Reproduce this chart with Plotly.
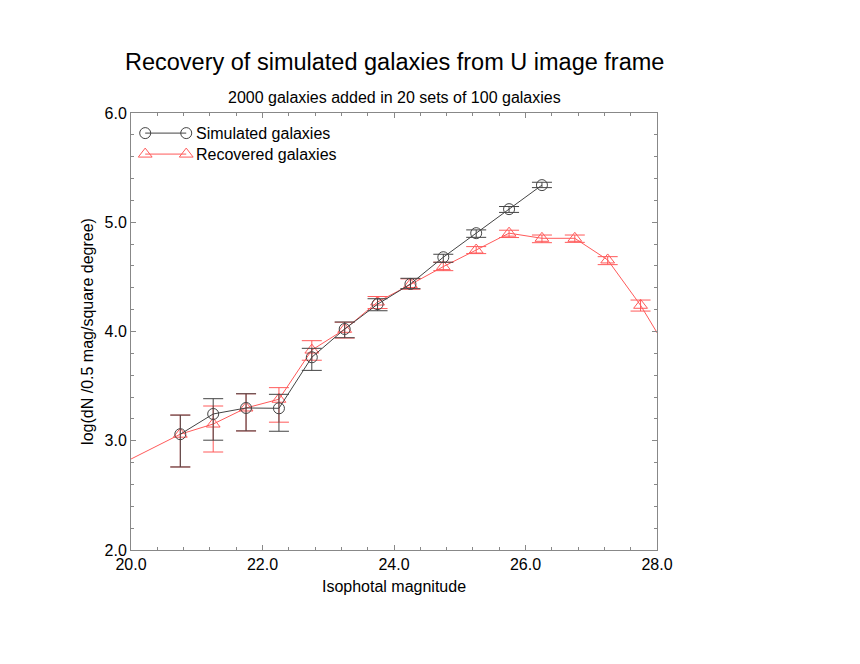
import plotly.graph_objects as go

# ---- data ----
sim_mag = [20.75, 21.25, 21.75, 22.25, 22.75, 23.25, 23.75, 24.25, 24.75, 25.25, 25.75, 26.25]
sim_logn = [3.06, 3.245, 3.30, 3.297, 3.764, 4.023, 4.25, 4.435, 4.68, 4.90, 5.12, 5.34]
sim_err_plus = [0.175, 0.14, 0.13, 0.128, 0.082, 0.064, 0.05, 0.052, 0.027, 0.03, 0.024, 0.026]
sim_err_minus = [0.30, 0.24, 0.21, 0.21, 0.12, 0.08, 0.06, 0.043, 0.046, 0.038, 0.03, 0.023]

rec_mag = [19.75, 20.75, 21.25, 21.75, 22.25, 22.75, 23.25, 23.75, 24.25, 24.75, 25.25, 25.75, 26.25, 26.75, 27.25, 27.75, 28.25]
rec_logn = [2.757, 3.06, 3.153, 3.30, 3.38, 3.83, 4.02, 4.27, 4.43, 4.594, 4.746, 4.90, 4.853, 4.853, 4.655, 4.24, 3.74]
rec_err_plus = [0.2, 0.175, 0.165, 0.13, 0.106, 0.086, 0.065, 0.05, 0.052, 0.04, 0.031, 0.027, 0.03, 0.03, 0.03, 0.048, 0.06]
rec_err_minus = [0.35, 0.30, 0.256, 0.21, 0.21, 0.093, 0.08, 0.06, 0.043, 0.037, 0.033, 0.04, 0.04, 0.037, 0.043, 0.053, 0.07]

x_ticks = [20.0, 22.0, 24.0, 26.0, 28.0]
y_ticks = [2.0, 3.0, 4.0, 5.0, 6.0]

title_text = "Recovery of simulated galaxies from U image frame"
subtitle_text = "2000 galaxies added in 20 sets of 100 galaxies"
x_title = "Isophotal magnitude"
y_title = "log(dN /0.5 mag/square degree)"
legend_labels = ["Simulated galaxies", "Recovered galaxies"]

BLACK = "#444444"
RED = "#ff5a5a"
FONT = "Liberation Sans, Arial, sans-serif"

fig = go.Figure()

fig.add_trace(go.Scatter(
    x=rec_mag, y=rec_logn, mode="lines+markers",
    line=dict(color=RED, width=1),
    marker=dict(symbol="triangle-up-open", size=12, color=RED, line=dict(width=1)),
    error_y=dict(type="data", symmetric=False, array=rec_err_plus, arrayminus=rec_err_minus,
                 color=RED, thickness=1, width=10),
    showlegend=False, cliponaxis=True,
))
fig.add_trace(go.Scatter(
    x=sim_mag, y=sim_logn, mode="lines+markers",
    line=dict(color=BLACK, width=1),
    marker=dict(symbol="circle-open", size=11, color=BLACK, line=dict(width=1)),
    error_y=dict(type="data", symmetric=False, array=sim_err_plus, arrayminus=sim_err_minus,
                 color=BLACK, thickness=1, width=10),
    showlegend=False, cliponaxis=True,
))

# manual legend on an overlay axis (0..1 coordinates of the plot area)
leg_x = [0.027, 0.105]
fig.add_trace(go.Scatter(
    x=leg_x, y=[0.954, 0.954], xaxis="x2", yaxis="y2", mode="lines+markers",
    line=dict(color=BLACK, width=1),
    marker=dict(symbol="circle-open", size=11, color=BLACK, line=dict(width=1)),
    showlegend=False, hoverinfo="skip",
))
fig.add_trace(go.Scatter(
    x=leg_x, y=[0.906, 0.906], xaxis="x2", yaxis="y2", mode="lines+markers",
    line=dict(color=RED, width=1),
    marker=dict(symbol="triangle-up-open", size=12, color=RED, line=dict(width=1)),
    showlegend=False, hoverinfo="skip",
))

axis_common = dict(
    showgrid=False, zeroline=False, showline=True, linecolor="#888888", linewidth=1,
    mirror="ticks", ticks="inside", ticklen=5, tickcolor="#888888",
    tickfont=dict(family=FONT, size=16, color="black"),
)

fig.update_layout(
    width=860, height=664,
    paper_bgcolor="white", plot_bgcolor="white",
    margin=dict(l=123, r=211, t=105, b=122),
    font=dict(family=FONT, color="black"),
    xaxis=dict(range=[20, 28], tickvals=x_ticks, ticktext=[f"{v:.1f}" for v in x_ticks],
               minor=dict(dtick=0.4, ticks="inside", ticklen=3, tickcolor="#888888"),
               title=dict(text=x_title, font=dict(size=16), standoff=8), **axis_common),
    yaxis=dict(range=[2, 6], tickvals=y_ticks, ticktext=[f"{v:.1f}" for v in y_ticks],
               minor=dict(dtick=0.2, ticks="inside", ticklen=3, tickcolor="#888888"),
               title=dict(text=y_title, font=dict(size=16), standoff=6), **axis_common),
    xaxis2=dict(range=[0, 1], overlaying="x", visible=False),
    yaxis2=dict(range=[0, 1], overlaying="y", visible=False),
    annotations=[
        dict(text=title_text, xref="paper", yref="paper", x=0.5, y=1, yshift=51,
             showarrow=False, font=dict(size=23.5, family=FONT), xanchor="center", yanchor="middle"),
        dict(text=subtitle_text, xref="paper", yref="paper", x=0.5, y=1, yshift=16,
             showarrow=False, font=dict(size=16, family=FONT), xanchor="center", yanchor="middle"),
        dict(text=legend_labels[0], xref="paper", yref="paper", x=0.12, y=0.954,
             showarrow=False, font=dict(size=16, family=FONT), xanchor="left", yanchor="middle"),
        dict(text=legend_labels[1], xref="paper", yref="paper", x=0.12, y=0.906,
             showarrow=False, font=dict(size=16, family=FONT), xanchor="left", yanchor="middle"),
    ],
)

fig.write_html("out.html")
